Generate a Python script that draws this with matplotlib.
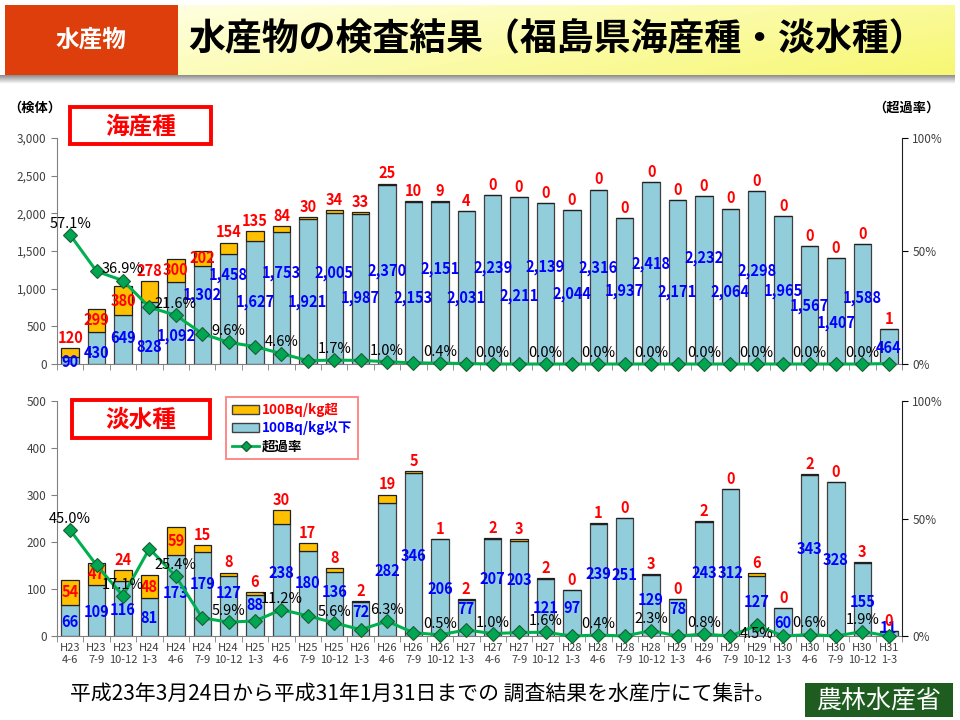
import numpy as np
import matplotlib.pyplot as plt
from matplotlib.patches import Rectangle, Patch
from matplotlib.lines import Line2D

plt.rcParams['font.family'] = ['Noto Sans CJK JP', 'DejaVu Sans']

# --- data ---
periods = ['H23\n4-6', 'H23\n7-9', 'H23\n10-12', 'H24\n1-3', 'H24\n4-6', 'H24\n7-9', 'H24\n10-12',
           'H25\n1-3', 'H25\n4-6', 'H25\n7-9', 'H25\n10-12', 'H26\n1-3', 'H26\n4-6', 'H26\n7-9',
           'H26\n10-12', 'H27\n1-3', 'H27\n4-6', 'H27\n7-9', 'H27\n10-12', 'H28\n1-3', 'H28\n4-6',
           'H28\n7-9', 'H28\n10-12', 'H29\n1-3', 'H29\n4-6', 'H29\n7-9', 'H29\n10-12', 'H30\n1-3',
           'H30\n4-6', 'H30\n7-9', 'H30\n10-12', 'H31\n1-3']

sea_under = [90, 430, 649, 828, 1092, 1302, 1458, 1627, 1753, 1921, 2005, 1987, 2370, 2153, 2151, 2031,
             2239, 2211, 2139, 2044, 2316, 1937, 2418, 2171, 2232, 2064, 2298, 1965, 1567, 1407, 1588, 464]
sea_over = [120, 299, 380, 278, 300, 202, 154, 135, 84, 30, 34, 33, 25, 10, 9, 4,
            0, 0, 0, 0, 0, 0, 0, 0, 0, 0, 0, 0, 0, 0, 0, 1]
sea_rate = [57.1, 41.0, 36.9, 25.1, 21.6, 13.4, 9.6, 7.7, 4.6, 1.5, 1.7, 1.6, 1.0, 0.5, 0.4, 0.2,
            0.0, 0.0, 0.0, 0.0, 0.0, 0.0, 0.0, 0.0, 0.0, 0.0, 0.0, 0.0, 0.0, 0.0, 0.0, 0.2]

fresh_under = [66, 109, 116, 81, 173, 179, 127, 88, 238, 180, 136, 72, 282, 346, 206, 77,
               207, 203, 121, 97, 239, 251, 129, 78, 243, 312, 127, 60, 343, 328, 155, 11]
fresh_over = [54, 47, 24, 48, 59, 15, 8, 6, 30, 17, 8, 2, 19, 5, 1, 2,
              2, 3, 2, 0, 1, 0, 3, 0, 2, 0, 6, 0, 2, 0, 3, 0]
fresh_rate = [45.0, 30.1, 17.1, 37.2, 25.4, 7.7, 5.9, 6.4, 11.2, 8.6, 5.6, 2.7, 6.3, 1.4, 0.5, 2.6,
              1.0, 1.5, 1.6, 0.0, 0.4, 0.0, 2.3, 0.0, 0.8, 0.0, 4.5, 0.0, 0.6, 0.0, 1.9, 0.0]

# label placement (where the blue count labels sit, in axis units)
sea_blue_y = [30, 145, 345, 225, 370, 915, 1180, 820, 1205, 820, 1205, 875, 1235, 875, 1260, 875,
              1270, 900, 1285, 930, 1270, 970, 1325, 955, 1405, 955, 1235, 970, 770, 545, 875, 210]
fresh_blue_y = [30, 51, 55, 38, 91, 111, 91, 66, 134, 113, 94, 51, 138, 170, 100, 57,
                121, 119, 60, 60, 132, 130, 77, 57, 134, 134, 72, 28, 185, 162, 72, 16]
sea_inside = [1, 2, 4, 5]
fresh_inside = [0, 1, 3, 4]

BLUE = '#92CDDC'
ORANGE = '#FFC000'
GREEN = '#00B050'


def fx(px):
    return px / 960


def fy(py):
    return 1 - py / 720


def draw_panel(ax, under, over, rate, ymax, step, blue_y, inside, xlabels, below=()):
    x = np.arange(len(under))
    ax.bar(x, under, width=0.66, color=BLUE, edgecolor='#404040', linewidth=0.9, zorder=2)
    ax.bar(x, over, bottom=under, width=0.66, color=ORANGE, edgecolor='#202020', linewidth=0.9, zorder=2)
    ax.set_xlim(-0.5, len(x) - 0.5)
    ax.set_ylim(0, ymax)
    ax.set_yticks(np.arange(0, ymax + 1, step))
    ax.set_yticklabels([f'{v:,}' for v in np.arange(0, ymax + 1, step)])
    ax.tick_params(axis='y', direction='out', length=4, labelsize=8.5, labelcolor='#404040', color='#808080')
    ax.set_xticks(x)
    ax.set_xticklabels(periods if xlabels else [])
    ax.tick_params(axis='x', which='major', length=0, labelsize=8, labelcolor='#404040', pad=5)
    ax.set_xticks(np.arange(-0.5, len(x), 1), minor=True)
    ax.tick_params(axis='x', which='minor', length=4, color='#808080')
    for s in ['top', 'right']:
        ax.spines[s].set_visible(False)
    ax.spines['left'].set_color('#808080')
    ax.spines['bottom'].set_color('#808080')

    for i in x:
        ax.text(i, blue_y[i], f'{under[i]:,}', color='#0000FF', fontsize=10.5, fontweight='bold',
                ha='center', va='center', zorder=4)
        if i in inside:
            ax.text(i, under[i] + over[i] / 2, str(over[i]), color='#FF0000', fontsize=10.5,
                    fontweight='bold', ha='center', va='center', zorder=4)
        else:
            ax.annotate(str(over[i]), (i, under[i] + over[i]), xytext=(0, 1.5), textcoords='offset points',
                        color='#FF0000', fontsize=10.5, fontweight='bold', ha='center', va='bottom', zorder=4)

    ax2 = ax.twinx()
    ax2.set_ylim(0, 100)
    ax2.set_yticks([0, 50, 100])
    ax2.set_yticklabels(['0%', '50%', '100%'])
    ax2.tick_params(axis='y', direction='out', length=4, labelsize=8.5, labelcolor='#404040')
    for s in ['top', 'left', 'bottom']:
        ax2.spines[s].set_visible(False)
    ax2.spines['right'].set_color('#202020')
    ax2.plot(x, rate, color=GREEN, lw=2.2, marker='D', ms=7, mfc='#00A651', mec='#1D5E32', mew=0.8,
             clip_on=False, zorder=5)
    for i in x[::2]:
        dy = -6 if i in below else 8
        ax2.annotate(f'{rate[i]:.1f}%', (i, rate[i]), xytext=(0, dy), textcoords='offset points',
                     ha='center', va='center', fontsize=10.5, color='black', zorder=6)
    return ax2


fig = plt.figure(figsize=(9.6, 7.2), dpi=100)

# header
ban = fig.add_axes([fx(178), fy(75), fx(955) - fx(178), 70 / 720])
gx = np.linspace(0, 1, 200)[None, :]
gy = np.linspace(0, 1, 40)[:, None]
t = np.clip(0.65 * gx + 0.35 * gy, 0, 1)
c0 = np.array([1.0, 1.0, 0.88])
c1 = np.array([0.97, 0.97, 0.45])
img = c0 + (c1 - c0) * t[..., None]
ban.imshow(img, aspect='auto', extent=(0, 1, 0, 1))
ban.axis('off')
shd = fig.add_axes([fx(0), fy(84), 955 / 960, 9 / 720])
sg = np.linspace(0.55, 1.0, 20)[:, None] * np.ones((1, 10))
shd.imshow(np.dstack([sg, sg, sg]), aspect='auto', extent=(0, 1, 0, 1))
shd.axis('off')
fig.add_artist(Rectangle((fx(5), fy(75)), fx(178) - fx(5), 70 / 720, transform=fig.transFigure,
                         facecolor='#DD3E0B', edgecolor='none'))
fig.text(fx(91), fy(40), '水産物', color='white', fontsize=17, fontweight='bold', ha='center', va='center')
fig.text(fx(557), fy(40), '水産物の検査結果（福島県海産種・淡水種）', color='black', fontsize=26.6,
         fontweight='bold', ha='center', va='center')

# panels
ax_top = fig.add_axes([fx(57), fy(364), (902 - 57) / 960, (364 - 138) / 720])
draw_panel(ax_top, sea_under, sea_over, sea_rate, 3000, 500, sea_blue_y, sea_inside, False)
ax_bot = fig.add_axes([fx(57), fy(636), (902 - 57) / 960, (636 - 401) / 720])
ax_bot2 = draw_panel(ax_bot, fresh_under, fresh_over, fresh_rate, 500, 100, fresh_blue_y, fresh_inside, True,
                     below=(26,))

fig.text(fx(8), fy(108), '（検体）', fontsize=9.5, fontweight='bold', ha='left', va='center')
fig.text(fx(940), fy(108), '（超過率）', fontsize=9.5, fontweight='bold', ha='right', va='center')

# red title boxes
for (x0, y0, x1, y1, lab) in [(70, 107, 211, 144, '海産種'), (72, 400, 210, 438, '淡水種')]:
    fig.add_artist(Rectangle((fx(x0), fy(y1)), fx(x1) - fx(x0), (y1 - y0) / 720, transform=fig.transFigure,
                             facecolor='white', edgecolor='#FF0000', linewidth=2.8, zorder=10))
    fig.text(fx((x0 + x1) / 2), fy((y0 + y1) / 2 + 1), lab, color='#FF0000', fontsize=17, fontweight='bold',
             ha='center', va='center', zorder=11)

# legend
handles = [Patch(facecolor=ORANGE, edgecolor='#404040'),
           Patch(facecolor=BLUE, edgecolor='#404040'),
           Line2D([], [], color=GREEN, lw=2, marker='D', ms=5, mfc='#00A651', mec='#1D5E32')]
leg = fig.legend(handles, ['100Bq/kg超', '100Bq/kg以下', '超過率'], loc='upper left',
                 bbox_to_anchor=(fx(226), fy(397)), frameon=True, fancybox=False, fontsize=9.7,
                 handlelength=2.0, handleheight=0.6, handletextpad=0.2, labelspacing=0.3,
                 borderpad=0.45, borderaxespad=0)
leg.get_frame().set_edgecolor('#FF6060')
leg.get_frame().set_linewidth(1.3)
for txt, col in zip(leg.get_texts(), ['#FF0000', '#0000FF', 'black']):
    txt.set_color(col)
    txt.set_fontweight('bold')
leg.set_zorder(12)

# footer
fig.text(fx(70), fy(694), '平成23年3月24日から平成31年1月31日までの 調査結果を水産庁にて集計。',
         fontsize=15, ha='left', va='center')
fig.add_artist(Rectangle((fx(805), fy(717)), fx(953) - fx(805), 34 / 720, transform=fig.transFigure,
                         facecolor='#1E5C20', edgecolor='none'))
fig.text(fx(879), fy(700), '農林水産省', color='white', fontsize=18, ha='center', va='center')

fig.savefig('out.png', dpi=100, facecolor='white')
